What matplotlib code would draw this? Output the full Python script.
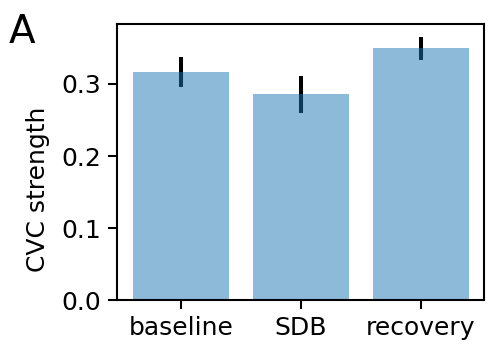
import matplotlib
matplotlib.use("Agg")
import matplotlib.pyplot as plt
import numpy as np

conditions = ["baseline", "SDB", "recovery"]
cvc_strength = [0.3167, 0.2862, 0.3500]
ci_low = [0.2954, 0.2600, 0.3333]
ci_high = [0.3375, 0.3110, 0.3657]

plt.rcParams["font.family"] = "DejaVu Sans"

fig = plt.figure(figsize=(4.92, 3.47), dpi=100)
ax = fig.add_axes([0.2378, 0.1354, 0.7465, 0.7954])

x = np.arange(len(conditions))
vals = np.array(cvc_strength)
yerr = np.vstack([vals - np.array(ci_low), np.array(ci_high) - vals])

# confidence intervals first, translucent bars on top
ax.errorbar(x, vals, yerr=yerr, fmt="none", ecolor="black", elinewidth=2.9,
            capsize=0, zorder=1)
ax.bar(x, vals, width=0.8, color="#1f77b4", alpha=0.5, zorder=2)

ax.set_xlim(-0.535, 2.53)
ax.set_ylim(0, 0.3833)
ax.set_xticks(x)
ax.set_xticklabels(conditions)
ax.set_yticks([0.0, 0.1, 0.2, 0.3])
ax.set_ylabel("CVC strength", fontsize=18, labelpad=8)
ax.yaxis.label.set_y(0.40)

for s in ax.spines.values():
    s.set_linewidth(1.5)
ax.tick_params(axis="both", labelsize=18, length=6.5, width=1.5, pad=5)

fig.text(0.018, 0.962, "A", fontsize=28, va="top", ha="left")

fig.savefig("out.png", dpi=100)
